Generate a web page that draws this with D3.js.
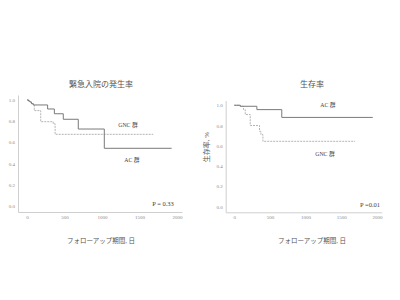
<!DOCTYPE html>
<html><head><meta charset="utf-8">
<script src="https://cdn.jsdelivr.net/npm/d3@7"></script>
<style>
body{margin:0;background:#fff;}
svg{display:block;}
</style></head>
<body>
<svg id="c" width="400" height="300"></svg>
<script>
// ---- data ----
const xTicks = [0, 500, 1000, 1500, 2000];
const yTicks = [0, 0.2, 0.4, 0.6, 0.8, 1.0];

const leftTitle = "緊急入院の発生率";
const leftAC_days = [0, 20, 40, 60, 84, 275, 365, 484, 684, 1031, 1929];
const leftAC_surv = [1.0, 0.99, 0.98, 0.965, 0.953, 0.915, 0.87, 0.818, 0.726, 0.544, 0.544];
const leftGNC_days = [0, 20, 40, 60, 84, 97, 183, 350, 375, 1684];
const leftGNC_surv = [1.0, 0.99, 0.98, 0.965, 0.953, 0.90, 0.795, 0.775, 0.676, 0.676];
const leftP = "P = 0.33";

const rightTitle = "生存率";
const rightYLabel = "生存率, %";
const rightAC_days = [0, 84, 317, 666, 1942];
const rightAC_surv = [1.0, 0.99, 0.957, 0.88, 0.88];
const rightGNC_days = [0, 84, 130, 154, 224, 354, 374, 402, 1695];
const rightGNC_surv = [1.0, 0.99, 0.957, 0.908, 0.80, 0.743, 0.71, 0.644, 0.644];
const rightP = "P =0.01";

const groupAC = "AC 群";
const groupGNC = "GNC 群";
const xLabel = "フォローアップ期間, 日";

const serif = "'Liberation Serif','DejaVu Serif','Noto Sans CJK JP',serif";
const svg = d3.select("#c");

function panel(cfg){
  const g = svg.append("g");
  const x = d3.scaleLinear().domain([-120, 2067]).range(cfg.xr);
  const y = d3.scaleLinear().domain([-0.057, 1.047]).range(cfg.yr);

  const xa = g.append("g").attr("transform", `translate(0,${cfg.yr[0]})`)
    .call(d3.axisBottom(x).tickValues(xTicks).tickSize(0).tickSizeOuter(0).tickPadding(3).tickFormat(d3.format("d")));
  const ya = g.append("g").attr("transform", `translate(${cfg.xr[0]},0)`)
    .call(d3.axisLeft(y).tickValues(yTicks).tickSize(0).tickSizeOuter(0).tickPadding(3).tickFormat(d3.format(".1f")));
  [xa, ya].forEach(a => {
    a.select(".domain").attr("stroke", "#cfcfcf").attr("stroke-width", 1);
    a.selectAll("text").attr("font-family", serif).attr("font-size", 5).attr("fill", "#888");
  });

  const line = d3.line().x(d => x(d[0])).y(d => y(d[1])).curve(d3.curveStepAfter);
  g.append("path").datum(d3.zip(cfg.gnc[0], cfg.gnc[1])).attr("d", line)
    .attr("fill", "none").attr("stroke", "#b4b4b4").attr("stroke-width", 1).attr("stroke-dasharray", "2,1");
  g.append("path").datum(d3.zip(cfg.ac[0], cfg.ac[1])).attr("d", line)
    .attr("fill", "none").attr("stroke", "#7a7a7a").attr("stroke-width", 1);

  g.append("text").attr("x", cfg.titleX).attr("y", 87).attr("text-anchor", "middle")
    .attr("font-family", serif).attr("font-size", 8).attr("fill", "#555").text(cfg.title);
  g.append("text").attr("x", cfg.titleX).attr("y", 243).attr("text-anchor", "middle")
    .attr("font-family", serif).attr("font-size", 6.5).attr("fill", "#555").text(xLabel);

  cfg.labels.forEach(l => {
    g.append("text").attr("x", l[1]).attr("y", l[2]).attr("text-anchor", "middle")
      .attr("font-family", serif).attr("font-size", 5.8).attr("fill", "#444").text(l[0]);
  });
  g.append("text").attr("x", cfg.p[1]).attr("y", cfg.p[2]).attr("text-anchor", "middle")
    .attr("font-family", serif).attr("font-size", 6.5).attr("fill", "#444").text(cfg.p[0]);
  return g;
}

panel({
  xr: [18, 182], yr: [212, 95], title: leftTitle, titleX: 101,
  ac: [leftAC_days, leftAC_surv], gnc: [leftGNC_days, leftGNC_surv],
  labels: [[groupGNC, 128, 127], [groupAC, 132, 162]],
  p: [leftP, 163, 205.5]
});
const rp = panel({
  xr: [225.7, 381.7], yr: [212.3, 100.5], title: rightTitle, titleX: 312,
  ac: [rightAC_days, rightAC_surv], gnc: [rightGNC_days, rightGNC_surv],
  labels: [[groupAC, 328, 107], [groupGNC, 325, 155.5]],
  p: [rightP, 370, 207]
});
rp.append("text").attr("transform", "translate(209,147) rotate(-90)").attr("text-anchor", "middle")
  .attr("font-family", serif).attr("font-size", 7).attr("fill", "#555").text(rightYLabel);
</script>
</body></html>
